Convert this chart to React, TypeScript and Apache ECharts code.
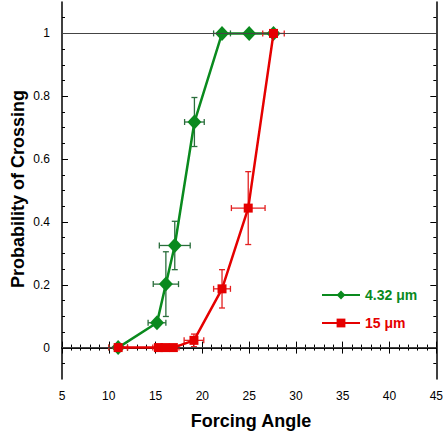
import React, { useEffect, useRef } from "react";
import * as echarts from "echarts";

const greenName = "4.32 μm";
const redName = "15 μm";

const greenX = [11.0, 15.15, 16.1, 17.05, 19.15, 22.1, 25.0, 27.6];
const greenY = [0, 0.079, 0.202, 0.325, 0.718, 1, 1, 1];
const greenXErr = [1.0, 0.95, 1.35, 1.65, 1.05, 0.9, 0, 0];
const greenYErr = [0, 0, 0.103, 0.077, 0.078, 0, 0, 0];

const redX = [11.0, 15.3, 16.0, 16.9, 19.1, 22.1, 24.9, 27.6];
const redY = [0, 0, 0, 0, 0.023, 0.187, 0.444, 1];
const redXErr = [1.0, 0.6, 0.6, 0.6, 1.05, 0.9, 1.8, 1.15];
const redYErr = [0, 0, 0, 0, 0.02, 0.061, 0.116, 0];

const yMajorTicks = [0, 0.2, 0.4, 0.6, 0.8, 1];
const yMinorTicks = [-0.05, 0.05, 0.1, 0.15, 0.25, 0.3, 0.35, 0.45, 0.5, 0.55, 0.65, 0.7, 0.75, 0.85, 0.9, 0.95, 1.05];
const refLines = [0, 1];

const FONT = "Arial, 'Liberation Sans', sans-serif";
const GREEN = "#0a8a1e";
const GREEN_ERR = "#2a6e3c";
const RED = "#e50000";
const RED_ERR = "#e32020";

function errSeries(xs: number[], ys: number[], xe: number[], ye: number[], color: string, z: number, extra: any = {}) {
  return {
    type: "custom",
    z,
    silent: true,
    encode: { x: 0, y: 1 },
    data: xs.map((x, i) => [x, ys[i], xe[i], ye[i]]),
    renderItem: (params: any, api: any) => {
      const x = api.value(0), y = api.value(1), dx = api.value(2), dy = api.value(3);
      const children: any[] = [];
      const cap = 3;
      const st = { stroke: color, lineWidth: 1.3 };
      if (dx > 0) {
        const a = api.coord([x - dx, y]);
        const b = api.coord([x + dx, y]);
        children.push({ type: "line", shape: { x1: a[0], y1: a[1], x2: b[0], y2: b[1] }, style: st });
        children.push({ type: "line", shape: { x1: a[0], y1: a[1] - cap, x2: a[0], y2: a[1] + cap }, style: st });
        children.push({ type: "line", shape: { x1: b[0], y1: b[1] - cap, x2: b[0], y2: b[1] + cap }, style: st });
      }
      if (dy > 0) {
        const a = api.coord([x, y - dy]);
        const b = api.coord([x, y + dy]);
        children.push({ type: "line", shape: { x1: a[0], y1: a[1], x2: b[0], y2: b[1] }, style: st });
        children.push({ type: "line", shape: { x1: a[0] - cap, y1: a[1], x2: a[0] + cap, y2: a[1] }, style: st });
        children.push({ type: "line", shape: { x1: b[0] - cap, y1: b[1], x2: b[0] + cap, y2: b[1] }, style: st });
      }
      return { type: "group", children };
    },
    ...extra,
  };
}

export default function App() {
  const ref = useRef<HTMLDivElement>(null);
  useEffect(() => {
    if (!ref.current) return;
    const chart = echarts.init(ref.current, null, { renderer: "svg" });
    const black = { color: "#000", width: 1 };
    const yBase = { type: "value", min: -0.1, max: 1.1, splitLine: { show: false } };
    const option: any = {
      animation: false,
      backgroundColor: "#fff",
      grid: { left: 62, right: 7, top: 2, bottom: 61 },
      xAxis: [
        {
          type: "value", min: 5, max: 45, interval: 5, position: "bottom",
          axisLine: { show: true, lineStyle: { color: "#000", width: 1.5 } },
          axisTick: { show: true, inside: true, length: 6, lineStyle: black },
          minorTick: { show: true, splitNumber: 5, length: 3, lineStyle: black },
          axisLabel: { margin: 11, fontSize: 12, color: "#000", fontFamily: FONT },
          splitLine: { show: false },
        },
        {
          type: "value", min: 5, max: 45, interval: 5, position: "top",
          axisLine: { show: true, lineStyle: { color: "#000", width: 1.5 } },
          axisTick: { show: true, inside: true, length: 6, lineStyle: black },
          minorTick: { show: true, splitNumber: 5, length: 3, lineStyle: black },
          axisLabel: { show: false },
          splitLine: { show: false },
        },
      ],
      yAxis: [
        {
          ...yBase, position: "left",
          axisLine: { show: true, lineStyle: { color: "#000", width: 1.5 } },
          axisTick: { show: true, inside: true, length: 6, lineStyle: black, customValues: yMajorTicks },
          axisLabel: { margin: 12, fontSize: 12, color: "#000", fontFamily: FONT, customValues: yMajorTicks },
        },
        {
          ...yBase, position: "left", offset: 0,
          axisLine: { show: false },
          axisTick: { show: true, inside: true, length: 3, lineStyle: black, customValues: yMinorTicks },
          axisLabel: { show: false },
        },
        {
          ...yBase, position: "right", offset: 0,
          axisLine: { show: true, lineStyle: { color: "#000", width: 1.5 } },
          axisTick: { show: true, inside: true, length: 6, lineStyle: black, customValues: yMajorTicks },
          axisLabel: { show: false },
        },
        {
          ...yBase, position: "right", offset: 0,
          axisLine: { show: false },
          axisTick: { show: true, inside: true, length: 3, lineStyle: black, customValues: yMinorTicks },
          axisLabel: { show: false },
        },
      ],
      legend: {
        orient: "vertical",
        left: 321,
        top: 288,
        padding: 0,
        itemWidth: 38,
        itemHeight: 11,
        itemGap: 14,
        textStyle: { fontSize: 14, fontWeight: "bold", fontFamily: FONT },
        data: [
          { name: greenName, textStyle: { color: GREEN } },
          { name: redName, textStyle: { color: RED } },
        ],
      },
      series: [
        errSeries(greenX, greenY, greenXErr, greenYErr, GREEN_ERR, 2, {
          markLine: {
            silent: true,
            symbol: "none",
            label: { show: false },
            lineStyle: { color: "#444", width: 1, type: "solid" },
            data: refLines.map((v) => ({ yAxis: v })),
          },
        }),
        {
          name: greenName,
          type: "line",
          z: 3,
          data: greenX.map((x, i) => [x, greenY[i]]),
          symbol: "diamond",
          symbolSize: [14, 15],
          lineStyle: { color: GREEN, width: 2.5 },
          itemStyle: { color: GREEN },
        },
        errSeries(redX, redY, redXErr, redYErr, RED_ERR, 4),
        {
          name: redName,
          type: "line",
          z: 5,
          data: redX.map((x, i) => [x, redY[i]]),
          symbol: "rect",
          symbolSize: 9,
          lineStyle: { color: RED, width: 2.5 },
          itemStyle: { color: RED },
        },
      ],
      graphic: [
        {
          type: "text",
          x: 18,
          y: 189,
          rotation: Math.PI / 2,
          style: {
            text: "Probability of Crossing",
            align: "center",
            verticalAlign: "middle",
            font: `bold 18px ${FONT}`,
            fill: "#000",
          },
        },
        {
          type: "text",
          x: 251,
          y: 421,
          style: {
            text: "Forcing Angle",
            align: "center",
            verticalAlign: "middle",
            font: `bold 18px ${FONT}`,
            fill: "#000",
          },
        },
      ],
    };
    chart.setOption(option);
    return () => chart.dispose();
  }, []);
  return <div ref={ref} style={{ position: "fixed", left: 0, top: 0, width: 446, height: 440 }} />;
}
